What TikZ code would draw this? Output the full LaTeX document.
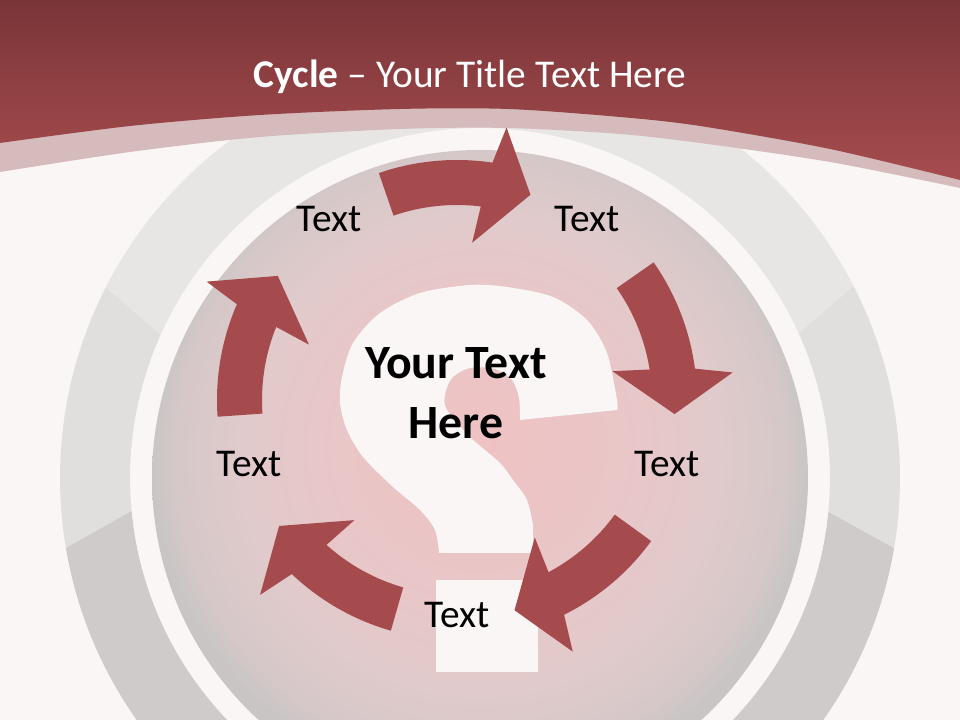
\documentclass[tikz,border=0pt]{standalone}
\usepackage{fontspec}
\setmainfont{Carlito}
\usetikzlibrary{positioning}

\definecolor{slidebg}{HTML}{F9F6F5}
\definecolor{headtop}{HTML}{7A3538}
\definecolor{headbot}{HTML}{A64C4E}
\definecolor{bandpink}{HTML}{D5BBBC}
\definecolor{ringtop}{HTML}{E8E5E5}
\definecolor{ringside}{HTML}{E1DEDE}
\definecolor{ringlow}{HTML}{CFCBCB}
\definecolor{arrowred}{HTML}{A64B4D}
\definecolor{discA}{HTML}{EFC2C3}
\definecolor{discB}{HTML}{E9C6C7}
\definecolor{discC}{HTML}{E1CACB}
\definecolor{discD}{HTML}{D6C8C8}
\definecolor{discE}{HTML}{CAC5C5}
\pgfdeclareradialshading{discshade}{\pgfpoint{0bp}{3bp}}{color(0bp)=(discA); color(11bp)=(discB); color(18bp)=(discC); color(23bp)=(discD); color(25bp)=(discE); color(50bp)=(discE)}

\newcommand{\ringpart}[5]{%
  \fill[#1] (#2:420) arc[start angle=#2, end angle=#3, radius=420]
    -- (#4:350) arc[start angle=#4, end angle=#5, radius=350] -- cycle;}

\begin{document}
\begin{tikzpicture}[
x=0.025cm, y=0.025cm,
lbl/.style={font=\fontsize{28}{34}\selectfont, text=black, inner sep=0pt, anchor=base},
headline/.style={font=\fontsize{28}{34}\selectfont, text=white, inner sep=0pt, anchor=base},
bigtext/.style={font=\fontsize{34}{42.5}\selectfont\bfseries, text=black, inner sep=0pt, align=center},
qmark/.style={fill=slidebg},
cycarrow/.style={fill=arrowred}
]

\useasboundingbox (0,0) rectangle (960,720);
\clip (0,0) rectangle (960,720);
\fill[slidebg] (0,0) rectangle (960,720);

\begin{scope}[shift={(480,242)}]
\ringpart{ringtop}{27.2}{153}{155.8}{24.4}
\ringpart{ringside}{153}{189.6}{185.4}{155.8}
\ringpart{ringlow}{189.6}{350.4}{354.5}{185.4}
\ringpart{ringside}{350.4}{387.2}{384.4}{354.5}
\end{scope}

\fill[bandpink] (0,720) -- (0,548) -- plot[smooth] coordinates {(0,548) (130,568) (260,583) (400,591) (508,592) (620,586) (700,577) (830,558) (960,532)} -- (960,720) -- cycle;
\shade[top color=headtop, bottom color=headbot] (0,720) -- (0,577) -- plot[smooth] coordinates {(0,577) (130,594) (260,605) (400,611) (508,611) (620,603) (700,594) (830,571) (960,540)} -- (960,720) -- cycle;

\shade[shading=discshade] (480,242) circle[radius=328];

\fill[qmark] (438,167) -- (533,167) -- (533,195)
  -- plot[smooth] coordinates {(533,195) (527,220) (513,240) (500,257) (470,283) (447,310) (445,325) (452,342) (470,352) (495,351) (512,340) (519,322) (520,300)}
  -- (617,310)
  -- plot[smooth] coordinates {(617,310) (617,320) (607,367) (587,400) (553,423) (507,433) (470,435) (420,427) (380,407) (353,377) (342,343) (340,317) (347,290) (363,263) (393,233) (420,210) (435,190) (439,167)}
  -- cycle;
\fill[qmark] (436,48) rectangle (538,140);

\foreach \rot in {1,-73,-144,-214,-284} {
\begin{scope}[shift={(457,320)}, rotate=\rot]
\fill[cycarrow] (108:240) arc[start angle=108, end angle=80.5, radius=240]
  -- (78.7:277) -- (69.3:218) -- (83.5:158) -- (82:195)
  arc[start angle=82, end angle=108, radius=195] -- cycle;
\end{scope}
}

\node[headline] (title) at (470,632) {\textbf{Cycle} \textendash{} Your Title Text Here};
\node[bigtext] (centre) at (456,327) {Your Text\\Here};

\node[lbl] (step_tl) at (329,488) {Text};
\node[lbl] (step_tr) at (587,488) {Text};
\node[lbl] (step_r) at (667,243) {Text};
\node[lbl] (step_b) at (457,92) {Text};
\node[lbl] (step_l) at (249,243) {Text};

\end{tikzpicture}
\end{document}
